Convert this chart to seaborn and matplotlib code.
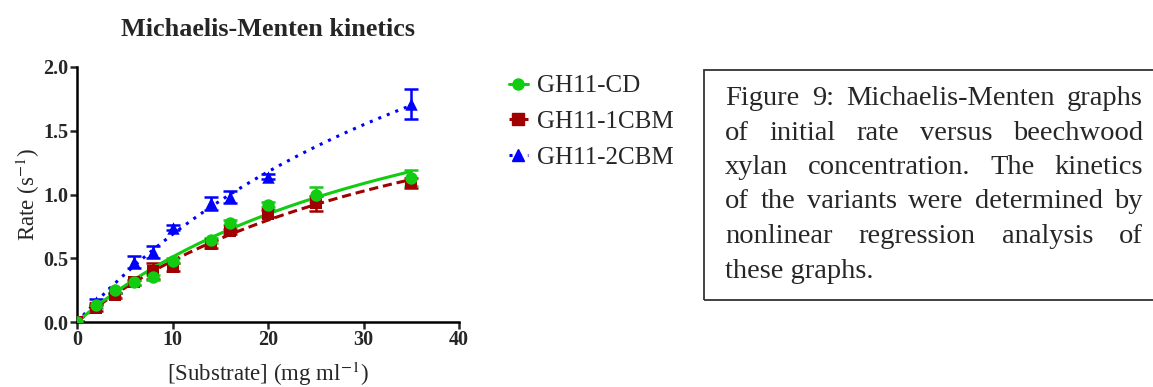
import numpy as np
import pandas as pd
import matplotlib
matplotlib.use("Agg")
import matplotlib.pyplot as plt
from matplotlib.lines import Line2D
import seaborn as sns

# data
substrate = [0, 2, 4, 6, 8, 10, 14, 16, 20, 25, 35]
rate_cd = [0.0, 0.13, 0.25, 0.31, 0.35, 0.48, 0.64, 0.78, 0.92, 1.00, 1.13]
err_cd = [0.01, 0.02, 0.02, 0.02, 0.02, 0.02, 0.02, 0.02, 0.02, 0.06, 0.06]
rate_1cbm = [0.0, 0.11, 0.21, 0.31, 0.40, 0.43, 0.61, 0.71, 0.85, 0.93, 1.09]
err_1cbm = [0.01, 0.02, 0.02, 0.02, 0.06, 0.03, 0.03, 0.02, 0.03, 0.06, 0.04]
rate_2cbm = [0.0, 0.16, 0.25, 0.47, 0.55, 0.74, 0.93, 0.98, 1.14, None, 1.71]
err_2cbm = [0.01, 0.02, 0.02, 0.05, 0.05, 0.02, 0.05, 0.05, 0.02, None, 0.12]

series = ["GH11-CD", "GH11-1CBM", "GH11-2CBM"]
colors = {"GH11-CD": "#12cc12", "GH11-1CBM": "#a00000", "GH11-2CBM": "#0000ff"}
markers = {"GH11-CD": "o", "GH11-1CBM": "s", "GH11-2CBM": "^"}
dashes = {"GH11-CD": "-", "GH11-1CBM": (0, (3, 1.6)), "GH11-2CBM": (0, (1, 2))}

caption_lines = [
    "Figure 9: Michaelis-Menten graphs",
    "of initial rate versus beechwood",
    "xylan concentration. The kinetics",
    "of the variants were determined by",
    "nonlinear regression analysis of",
    "these graphs.",
]

rows = []
for name, r, e in zip(series, [rate_cd, rate_1cbm, rate_2cbm], [err_cd, err_1cbm, err_2cbm]):
    for s, v, ee in zip(substrate, r, e):
        if v is not None:
            rows.append({"substrate": s, "rate": v, "err": ee, "variant": name})
df = pd.DataFrame(rows)


def mm_fit(x, y):
    # simple nonlinear least squares for V = Vmax*S/(Km+S)
    best = None
    for km in np.linspace(1, 200, 4000):
        f = x / (km + x)
        vmax = np.sum(y * f) / np.sum(f * f)
        sse = np.sum((y - vmax * f) ** 2)
        if best is None or sse < best[0]:
            best = (sse, km, vmax)
    return best[1], best[2]


sns.set_theme(style="ticks")
plt.rcParams["font.family"] = ["Liberation Serif", "DejaVu Serif"]
plt.rcParams["mathtext.fontset"] = "stix"

fig = plt.figure(figsize=(11.53, 3.87), dpi=100)
ax = fig.add_axes([77 / 1153, 1 - 322 / 387, (459 - 77) / 1153, (322 - 67) / 387])

xs = np.linspace(0, 35, 200)
fits = []
for name in series:
    sub = df[df["variant"] == name]
    km, vmax = mm_fit(sub["substrate"].to_numpy(float), sub["rate"].to_numpy(float))
    fits.append(pd.DataFrame({"substrate": xs, "rate": vmax * xs / (km + xs), "variant": name}))
fit_df = pd.concat(fits)

for name in ["GH11-2CBM", "GH11-1CBM", "GH11-CD"]:
    sub = df[df["variant"] == name]
    ax.errorbar(sub["substrate"], sub["rate"], yerr=sub["err"], fmt="none",
                ecolor=colors[name], elinewidth=1.8, capsize=5, capthick=1.8, zorder=2)
    sns.lineplot(data=fit_df[fit_df["variant"] == name], x="substrate", y="rate",
                 color=colors[name], linewidth=2.2, linestyle=dashes[name], ax=ax, zorder=3)
    sns.scatterplot(data=sub, x="substrate", y="rate", color=colors[name],
                    marker=markers[name], s=80, linewidth=0, ax=ax, zorder=4)

ax.set_xlim(0, 40)
ax.set_ylim(0, 2.0)
ax.set_xticks([0, 10, 20, 30, 40])
ax.set_yticks([0, 0.5, 1.0, 1.5, 2.0])
ax.set_yticklabels(["0.0", "0.5", "1.0", "1.5", "2.0"])
ax.minorticks_off()
ax.tick_params(which="major", direction="out", length=5, width=1.8, labelsize=14.5, pad=1)
for lab in ax.get_xticklabels() + ax.get_yticklabels():
    lab.set_fontweight("bold")
for sp in ["top", "right"]:
    ax.spines[sp].set_visible(False)
for sp in ["left", "bottom"]:
    ax.spines[sp].set_linewidth(1.8)
    ax.spines[sp].set_color("black")
ax.set_xlabel("[Substrate] (mg ml$^{-1}$)", fontsize=16.5, labelpad=7)
ax.set_ylabel("Rate (s$^{-1}$)", fontsize=16.5, labelpad=1)
ax.set_title("Michaelis-Menten kinetics", fontsize=18.8, fontweight="bold", pad=22)
ax.grid(False)

handles = [Line2D([0], [0], color=colors[n], marker=markers[n], linestyle=dashes[n],
                  linewidth=2.2, markersize=8) for n in series]
fig.legend(handles, series, loc="upper left", bbox_to_anchor=(499 / 1153, 1 - 65 / 387),
           frameon=False, fontsize=18, handlelength=0.75, handletextpad=0.35,
           labelspacing=0.52, borderaxespad=0)

# caption box, right edge runs off the page as in the reference
fig.patches.append(plt.Rectangle((704 / 1153, 1 - 300 / 387), (1170 - 704) / 1153, (300 - 70) / 387,
                                 transform=fig.transFigure, fill=False, edgecolor="#333333",
                                 linewidth=1.3))
renderer = fig.canvas.get_renderer()
left_px, right_px = 725, 1143
top_base = 105
line_h = 34.5
for i, line in enumerate(caption_lines):
    y = 1 - (top_base + i * line_h) / 387
    words = line.split(" ")
    if i == len(caption_lines) - 1:
        fig.text(left_px / 1153, y, line, fontsize=20.5, va="baseline", ha="left")
        continue
    objs = [fig.text(0, y, w, fontsize=20.5, va="baseline", ha="left") for w in words]
    widths = [o.get_window_extent(renderer).width for o in objs]
    gap = (right_px - left_px - sum(widths)) / (len(words) - 1)
    xpos = left_px
    for o, w in zip(objs, widths):
        o.set_x(xpos / 1153)
        xpos += w + gap

fig.savefig("out.png", dpi=100)
